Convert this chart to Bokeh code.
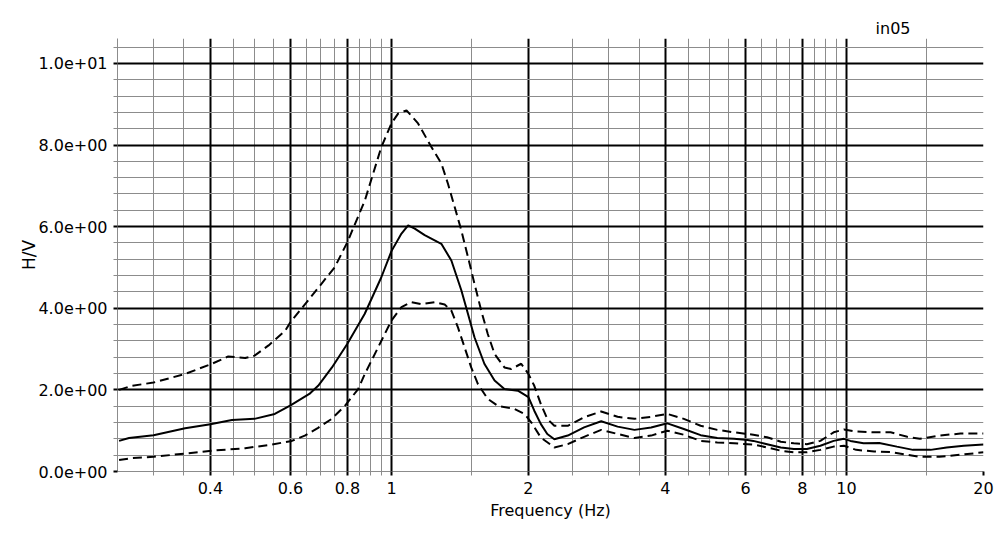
from bokeh.plotting import figure
from bokeh.models import FixedTicker, Range1d
from bokeh.embed import file_html
from bokeh.resources import INLINE

# ---- data ----
f_mean = [0.252, 0.265, 0.30, 0.352, 0.40, 0.446, 0.50, 0.554, 0.60, 0.66, 0.69, 0.74, 0.80, 0.873, 0.95,
          1.0, 1.052, 1.088, 1.125, 1.183, 1.287, 1.354, 1.424, 1.473, 1.522, 1.60, 1.685, 1.771, 1.896,
          2.0, 2.06, 2.13, 2.2, 2.28, 2.44, 2.65, 2.89, 3.14, 3.42, 3.72, 4.04, 4.39, 4.78, 5.2, 5.66,
          6.06, 6.24, 6.69, 7.17, 7.66, 8.18, 8.76, 9.37, 9.87, 10.2, 10.9, 11.8, 12.9, 14.0, 15.3, 16.6,
          18.1, 20.0]
v_mean = [0.75, 0.82, 0.89, 1.06, 1.16, 1.26, 1.29, 1.41, 1.62, 1.90, 2.10, 2.55, 3.13, 3.86, 4.76,
          5.40, 5.83, 6.03, 5.95, 5.79, 5.58, 5.17, 4.44, 3.86, 3.29, 2.64, 2.23, 2.02, 1.98,
          1.82, 1.49, 1.16, 0.92, 0.79, 0.88, 1.08, 1.23, 1.10, 1.02, 1.08, 1.18, 1.04, 0.89, 0.82, 0.80,
          0.77, 0.75, 0.67, 0.59, 0.55, 0.55, 0.63, 0.75, 0.80, 0.75, 0.69, 0.70, 0.61, 0.53, 0.53, 0.59,
          0.63, 0.66]

f_hi = [0.252, 0.269, 0.30, 0.352, 0.403, 0.438, 0.477, 0.50, 0.537, 0.584, 0.60, 0.679, 0.751, 0.80,
        0.874, 0.95, 1.0, 1.034, 1.079, 1.144, 1.224, 1.287, 1.331, 1.377, 1.424, 1.473, 1.522, 1.575,
        1.628, 1.685, 1.771, 1.832, 1.928, 2.0, 2.06, 2.13, 2.2, 2.28, 2.44, 2.65, 2.89, 3.14, 3.42,
        3.72, 4.04, 4.39, 4.78, 5.2, 5.66, 6.06, 6.24, 6.69, 7.17, 7.66, 8.18, 8.76, 9.37, 9.87, 10.5,
        11.5, 12.5, 13.6, 14.5, 16.0, 17.8, 20.0]
v_hi = [2.0, 2.10, 2.18, 2.39, 2.64, 2.82, 2.78, 2.84, 3.09, 3.45, 3.66, 4.40, 5.01, 5.62,
        6.64, 7.95, 8.53, 8.77, 8.85, 8.53, 7.95, 7.55, 7.05, 6.48, 5.91, 5.25, 4.60, 3.94,
        3.37, 2.88, 2.55, 2.51, 2.64, 2.39, 2.10, 1.65, 1.29, 1.12, 1.12, 1.33, 1.47, 1.34, 1.29,
        1.34, 1.41, 1.29, 1.12, 1.02, 0.96, 0.92, 0.90, 0.84, 0.73, 0.69, 0.67, 0.75, 0.96, 1.03, 0.98,
        0.96, 0.96, 0.85, 0.80, 0.88, 0.93, 0.93]

f_lo = [0.252, 0.269, 0.30, 0.352, 0.403, 0.477, 0.546, 0.604, 0.645, 0.69, 0.739, 0.79, 0.845, 0.874,
        0.951, 1.0, 1.052, 1.106, 1.164, 1.245, 1.309, 1.354, 1.40, 1.448, 1.497, 1.549, 1.628, 1.713,
        1.865, 1.96, 2.03, 2.13, 2.28, 2.44, 2.65, 2.89, 3.14, 3.42, 3.72, 4.04, 4.39, 4.78, 5.2, 5.66,
        6.06, 6.24, 6.69, 7.17, 7.66, 8.18, 8.76, 9.37, 9.87, 10.5, 11.5, 12.5, 13.6, 14.5, 16.0, 17.8,
        20.0]
v_lo = [0.28, 0.33, 0.36, 0.44, 0.51, 0.57, 0.66, 0.75, 0.88, 1.07, 1.29, 1.61, 2.02, 2.39,
        3.21, 3.70, 4.03, 4.15, 4.10, 4.15, 4.09, 3.94, 3.53, 3.04, 2.55, 2.14, 1.78, 1.61,
        1.53, 1.41, 1.20, 0.83, 0.59, 0.67, 0.85, 1.02, 0.92, 0.82, 0.88, 1.00, 0.90, 0.75, 0.71, 0.69,
        0.67, 0.66, 0.59, 0.51, 0.47, 0.47, 0.53, 0.61, 0.63, 0.53, 0.49, 0.48, 0.41, 0.36, 0.36, 0.41,
        0.47]

x_major = [0.4, 0.6, 0.8, 1, 2, 4, 6, 8, 10, 20]
x_labels = ["0.4", "0.6", "0.8", "1", "2", "4", "6", "8", "10", "20"]
x_minor = [0.3, 0.35, 0.45, 0.5, 0.55, 0.65, 0.7, 0.75, 0.85, 0.9, 0.95,
           1.5, 2.5, 3, 3.5, 4.5, 5, 5.5, 6.5, 7, 7.5, 8.5, 9, 9.5, 15]
y_major = [0, 2, 4, 6, 8, 10]
y_labels = ["0.0e+00", "2.0e+00", "4.0e+00", "6.0e+00", "8.0e+00", "1.0e+01"]
y_minor = [0.4, 0.8, 1.2, 1.6, 2.4, 2.8, 3.2, 3.6, 4.4, 4.8, 5.2, 5.6, 6.4, 6.8, 7.2, 7.6,
           8.4, 8.8, 9.2, 9.6, 10.4]

FONT = "DejaVu Sans"

p = figure(width=1002, height=538, x_axis_type="log",
           x_range=Range1d(0.25, 20), y_range=Range1d(0, 10.61),
           output_backend="svg", toolbar_location=None, title="in05",
           min_border_left=117, min_border_right=19, min_border_top=38, min_border_bottom=67)
p.outline_line_color = None
p.background_fill_color = "white"
p.border_fill_color = "white"

p.title.align = "right"
p.title.offset = 73
p.title.standoff = 2
p.title.text_font = FONT
p.title.text_font_size = "16px"
p.title.text_font_style = "normal"
p.title.text_color = "black"

xt = FixedTicker(ticks=x_major, minor_ticks=x_minor)
yt = FixedTicker(ticks=y_major, minor_ticks=y_minor)
p.xaxis.ticker = xt
p.yaxis.ticker = yt
p.xgrid.ticker = xt
p.ygrid.ticker = yt

for g in (p.xgrid, p.ygrid):
    g.grid_line_color = "black"
    g.grid_line_width = 2
    g.grid_line_alpha = 1.0
    g.minor_grid_line_color = "#8c8c8c"
    g.minor_grid_line_width = 1

p.xaxis.major_label_overrides = {k: v for k, v in zip(x_major, x_labels)}
p.yaxis.major_label_overrides = {k: v for k, v in zip(y_major, y_labels)}

for ax in (p.xaxis, p.yaxis):
    ax.axis_line_color = "#8c8c8c"
    ax.axis_line_width = 1
    ax.major_tick_line_color = "black"
    ax.major_tick_line_width = 2
    ax.major_tick_out = 4
    ax.major_tick_in = 0
    ax.minor_tick_line_color = "#8c8c8c"
    ax.minor_tick_out = 4
    ax.minor_tick_in = 0
    ax.major_label_text_font = FONT
    ax.major_label_text_font_size = "16px"
    ax.major_label_text_color = "black"
    ax.axis_label_text_font = FONT
    ax.axis_label_text_font_size = "17px"
    ax.axis_label_text_font_style = "normal"
    ax.axis_label_text_color = "black"

p.xaxis.axis_label_text_font_size = "16px"
p.xaxis.axis_label = "Frequency (Hz)"
p.yaxis.axis_label = "H/V"
p.xaxis.major_label_standoff = 6
p.xaxis.axis_label_standoff = 4
p.yaxis.major_label_standoff = 6
p.yaxis.axis_label_standoff = -4

p.line(f_hi, v_hi, line_color="black", line_width=2, line_dash="9 5")
p.line(f_lo, v_lo, line_color="black", line_width=2, line_dash="9 5")
p.line(f_mean, v_mean, line_color="black", line_width=2)

open("out.html", "w").write(file_html(p, INLINE))
